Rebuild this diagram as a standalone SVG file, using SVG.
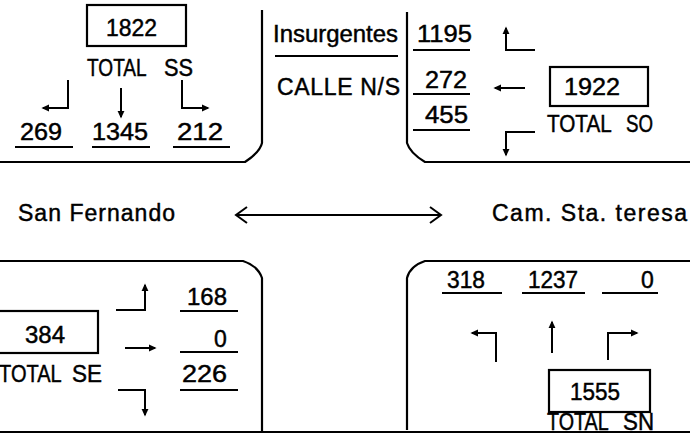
<svg xmlns="http://www.w3.org/2000/svg" width="690" height="441" viewBox="0 0 690 441">
<style>
text{font-family:"Liberation Sans",Arial,sans-serif;font-size:23px;fill:#000;stroke:#000;stroke-width:0.45}
.rd{fill:none;stroke:#000;stroke-width:2.2}
.ul{stroke:#000;stroke-width:2.2}
.bx{fill:#fff;stroke:#000;stroke-width:2.2}
.ar{fill:none;stroke:#000;stroke-width:2;marker-end:url(#ah)}
</style>
<defs>
<marker id="ah" viewBox="0 0 10 10" refX="8" refY="5" markerWidth="8" markerHeight="8" orient="auto" markerUnits="userSpaceOnUse"><path d="M0,0.5 L10,5 L0,9.5 z" fill="#000"/></marker>
</defs>
<rect width="690" height="441" fill="#fff"/>
<g id="roads">
<path class="rd" d="M262,10 V143 Q260,152 245,162 H-2"/>
<path class="rd" d="M407,12 V143 Q410,153 425,162 H692"/>
<path class="rd" d="M-2,261 H243 Q258,266 262,278 V432"/>
<path class="rd" d="M692,261 H425 Q410,266 407,278 V430"/>
<path class="rd" d="M0,432 H690"/>
</g>
<g id="total-ss">
<rect class="bx" x="87" y="5" width="99" height="41"/>
<text x="106" y="36" textLength="51" lengthAdjust="spacingAndGlyphs">1822</text>
<text y="76"><tspan x="87" textLength="59" lengthAdjust="spacingAndGlyphs">TOTAL</tspan> <tspan x="164" textLength="29" lengthAdjust="spacingAndGlyphs">SS</tspan></text>
<text x="20" y="140" textLength="42" lengthAdjust="spacingAndGlyphs">269</text>
<text x="92" y="140" textLength="56" lengthAdjust="spacingAndGlyphs">1345</text>
<text x="177" y="140" textLength="46" lengthAdjust="spacingAndGlyphs">212</text>
<line class="ul" x1="15" y1="147" x2="73" y2="147"/>
<line class="ul" x1="92" y1="147" x2="150" y2="147"/>
<line class="ul" x1="173" y1="147" x2="230" y2="147"/>
</g>
<g id="street-label">
<text x="273" y="42" textLength="125" lengthAdjust="spacingAndGlyphs">Insurgentes</text>
<line class="ul" x1="275" y1="56" x2="398" y2="56"/>
<text x="277" y="95" textLength="123">CALLE N/S</text>
</g>
<g id="total-so">
<text x="417" y="42" textLength="55" lengthAdjust="spacingAndGlyphs">1195</text>
<line class="ul" x1="413" y1="50" x2="470" y2="50"/>
<text x="425" y="88" textLength="42" lengthAdjust="spacingAndGlyphs">272</text>
<line class="ul" x1="413" y1="94" x2="470" y2="94"/>
<text x="425" y="123" textLength="43" lengthAdjust="spacingAndGlyphs">455</text>
<line class="ul" x1="413" y1="130" x2="470" y2="130"/>
<rect class="bx" x="550" y="67" width="98" height="39"/>
<text x="564" y="95" textLength="56" lengthAdjust="spacingAndGlyphs">1922</text>
<text y="132"><tspan x="547" textLength="64" lengthAdjust="spacingAndGlyphs">TOTAL</tspan> <tspan x="626" textLength="27" lengthAdjust="spacingAndGlyphs">SO</tspan></text>
</g>
<g id="cross-street">
<text x="18" y="221" textLength="157">San Fernando</text>
<text x="492" y="221" textLength="195">Cam. Sta. teresa</text>
</g>
<g id="total-se">
<rect class="bx" x="-5" y="311" width="103" height="42"/>
<text x="25" y="343" textLength="40" lengthAdjust="spacingAndGlyphs">384</text>
<text y="382"><tspan x="-1" textLength="62" lengthAdjust="spacingAndGlyphs">TOTAL</tspan> <tspan x="72" textLength="30" lengthAdjust="spacingAndGlyphs">SE</tspan></text>
<text x="187" y="305" textLength="40" lengthAdjust="spacingAndGlyphs">168</text>
<line class="ul" x1="180" y1="311" x2="238" y2="311"/>
<text x="214" y="347">0</text>
<line class="ul" x1="180" y1="352" x2="238" y2="352"/>
<text x="182" y="382" textLength="45" lengthAdjust="spacingAndGlyphs">226</text>
<line class="ul" x1="180" y1="390" x2="238" y2="390"/>
</g>
<g id="total-sn">
<text x="447" y="288" textLength="38" lengthAdjust="spacingAndGlyphs">318</text>
<line class="ul" x1="442" y1="293" x2="502" y2="293"/>
<text x="528" y="288" textLength="50" lengthAdjust="spacingAndGlyphs">1237</text>
<line class="ul" x1="522" y1="293" x2="585" y2="293"/>
<text x="641" y="288">0</text>
<line class="ul" x1="602" y1="293" x2="658" y2="293"/>
<rect class="bx" x="549" y="370" width="101" height="42"/>
<text x="570" y="400" textLength="50" lengthAdjust="spacingAndGlyphs">1555</text>
<text y="430"><tspan x="547" textLength="61" lengthAdjust="spacingAndGlyphs">TOTAL</tspan> <tspan x="623" textLength="31" lengthAdjust="spacingAndGlyphs">SN</tspan></text>
</g>
<g id="connectors">
<path class="ar" d="M68,80 V108 H43"/>
<path class="ar" d="M121,88 V117"/>
<path class="ar" d="M182,80 V108 H208"/>
<path class="ar" d="M535,50 H506 V28"/>
<path class="ar" d="M525,88 H495"/>
<path class="ar" d="M535,132 H506 V155"/>
<path class="ar" d="M116,310 H145 V285"/>
<path class="ar" d="M125,348 H155"/>
<path class="ar" d="M118,390 H145 V415"/>
<path class="ar" d="M496,362 V333 H472"/>
<path class="ar" d="M552,353 V322"/>
<path class="ar" d="M608,360 V333 H637"/>
<path fill="none" stroke="#000" stroke-width="2" d="M236,215 H441 M247,207 L236,215 L247,223 M430,207 L441,215 L430,223"/>
</g>
</svg>
